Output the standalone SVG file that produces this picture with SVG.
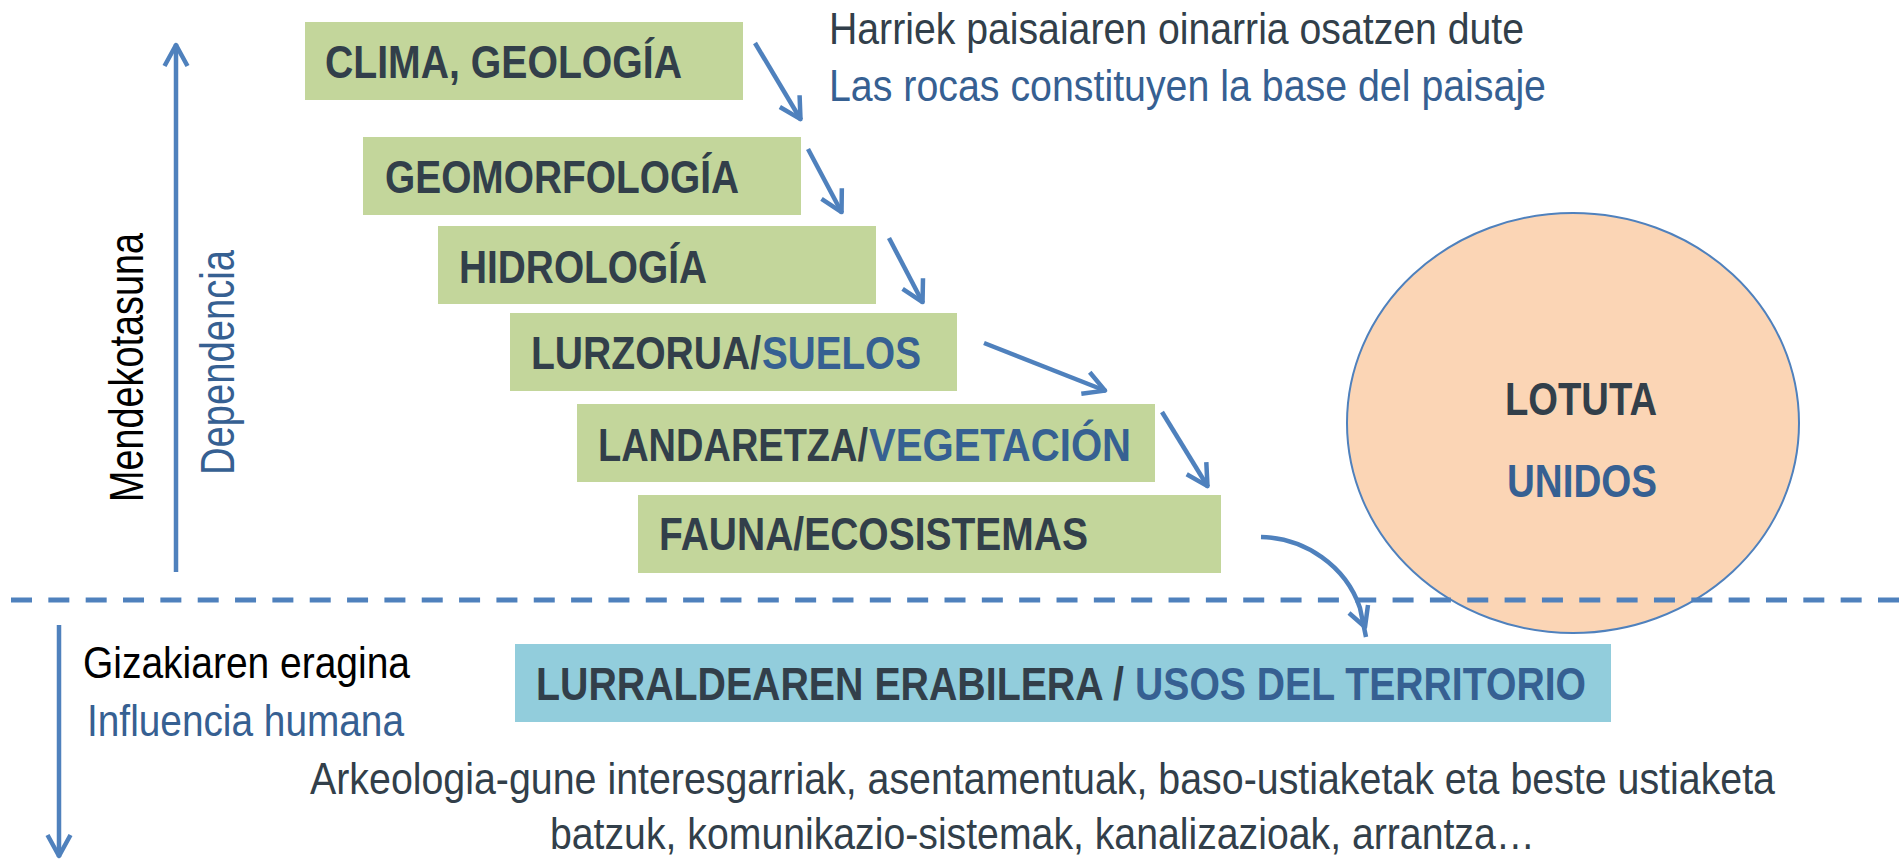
<svg xmlns="http://www.w3.org/2000/svg" width="1901" height="860" viewBox="0 0 1901 860">
<defs>
<style>
text{font-family:"Liberation Sans Narrow","Liberation Sans",Arial,sans-serif;}
.lbl{font-size:46px;font-weight:bold;fill:#323F4A;}
.blu{fill:#366092;}
.dk{fill:#323F4A;}
.reg{font-size:45px;}
.rot{font-size:48px;}
.green{fill:#C3D69B;}
.arrow{fill:none;stroke:#4F81BD;stroke-width:4.5;}
</style>
<marker id="arr" markerUnits="userSpaceOnUse" viewBox="-30 -16 34 32" refX="0" refY="0" markerWidth="34" markerHeight="32" orient="auto" overflow="visible">
<path d="M-22,-11.5 L-1,0 L-22,11.5" fill="none" stroke="#4F81BD" stroke-width="4.5" stroke-linejoin="round"/>
</marker>
</defs>
<rect width="1901" height="860" fill="#FFFFFF"/>

<g id="axis-dependencia">
<text class="rot" fill="#000000" transform="translate(143,502) rotate(-90)" textLength="269" lengthAdjust="spacingAndGlyphs">Mendekotasuna</text>
<text class="rot blu" transform="translate(234,475) rotate(-90)" textLength="225" lengthAdjust="spacingAndGlyphs">Dependencia</text>
</g>

<g id="subtitle-top">
<text class="reg dk" x="829" y="44" textLength="695" lengthAdjust="spacingAndGlyphs">Harriek paisaiaren oinarria osatzen dute</text>
<text class="reg blu" x="829" y="101" textLength="717" lengthAdjust="spacingAndGlyphs">Las rocas constituyen la base del paisaje</text>
</g>

<g id="node-clima">
<rect class="green" x="305" y="22" width="438" height="78"/>
<text class="lbl" x="325" y="78" textLength="357" lengthAdjust="spacingAndGlyphs">CLIMA, GEOLOGÍA</text>
</g>
<g id="node-geomorfologia">
<rect class="green" x="363" y="137" width="438" height="78"/>
<text class="lbl" x="385" y="193" textLength="354" lengthAdjust="spacingAndGlyphs">GEOMORFOLOGÍA</text>
</g>
<g id="node-hidrologia">
<rect class="green" x="438" y="226" width="438" height="78"/>
<text class="lbl" x="459" y="283" textLength="248" lengthAdjust="spacingAndGlyphs">HIDROLOGÍA</text>
</g>
<g id="node-suelos">
<rect class="green" x="510" y="313" width="447" height="78"/>
<text class="lbl" x="531" y="369"><tspan textLength="230" lengthAdjust="spacingAndGlyphs">LURZORUA/</tspan><tspan class="blu" x="762" textLength="159" lengthAdjust="spacingAndGlyphs">SUELOS</tspan></text>
</g>
<g id="node-vegetacion">
<rect class="green" x="577" y="404" width="578" height="78"/>
<text class="lbl" x="598" y="461"><tspan textLength="270" lengthAdjust="spacingAndGlyphs">LANDARETZA/</tspan><tspan class="blu" x="869" textLength="262" lengthAdjust="spacingAndGlyphs">VEGETACIÓN</tspan></text>
</g>
<g id="node-fauna">
<rect class="green" x="638" y="495" width="583" height="78"/>
<text class="lbl" x="659" y="550" textLength="429" lengthAdjust="spacingAndGlyphs">FAUNA/ECOSISTEMAS</text>
</g>

<g id="node-lotuta">
<ellipse cx="1573" cy="423" rx="226" ry="210" fill="#FBD5B5" stroke="#4F81BD" stroke-width="2"/>
<text class="lbl" x="1505" y="415" textLength="152" lengthAdjust="spacingAndGlyphs">LOTUTA</text>
<text class="lbl blu" x="1507" y="497" textLength="150" lengthAdjust="spacingAndGlyphs">UNIDOS</text>
</g>

<g id="separator">
<line x1="11" y1="600" x2="1901" y2="600" stroke="#4F81BD" stroke-width="5" stroke-dasharray="21 16.34"/>
</g>

<g id="node-territorio">
<rect x="515" y="644" width="1096" height="78" fill="#92CDDC"/>
<text class="lbl" x="536" y="700"><tspan textLength="588" lengthAdjust="spacingAndGlyphs">LURRALDEAREN ERABILERA /</tspan><tspan class="blu" x="1135" textLength="451" lengthAdjust="spacingAndGlyphs">USOS DEL TERRITORIO</tspan></text>
</g>

<g id="axis-influencia">
<text class="reg" fill="#000000" x="83" y="678" textLength="327" lengthAdjust="spacingAndGlyphs">Gizakiaren eragina</text>
<text class="reg blu" x="87" y="736" textLength="317" lengthAdjust="spacingAndGlyphs">Influencia humana</text>
</g>

<g id="description">
<text class="reg dk" x="310" y="794" textLength="1465" lengthAdjust="spacingAndGlyphs">Arkeologia-gune interesgarriak, asentamentuak, baso-ustiaketak eta beste ustiaketa</text>
<text class="reg dk" x="550" y="849" textLength="985" lengthAdjust="spacingAndGlyphs">batzuk, komunikazio-sistemak, kanalizazioak, arrantza…</text>
</g>

<g id="connectors">
<path class="arrow" d="M176,572 L176,44" marker-end="url(#arr)"/>
<path class="arrow" d="M59,625 L59,857" marker-end="url(#arr)"/>
<path class="arrow" d="M755,43 L801,120" marker-end="url(#arr)"/>
<path class="arrow" d="M808,149 L842,213" marker-end="url(#arr)"/>
<path class="arrow" d="M889,238 L923,303" marker-end="url(#arr)"/>
<path class="arrow" d="M984,343 L1106,391" marker-end="url(#arr)"/>
<path class="arrow" d="M1162,412 L1208,487" marker-end="url(#arr)"/>
<path class="arrow" d="M1261,537 C1305,538 1346,566 1360,608 L1366,637"/>
<polyline class="arrow" points="1349,613 1365,627 1368,605" stroke-linejoin="round"/>
</g>
</svg>
